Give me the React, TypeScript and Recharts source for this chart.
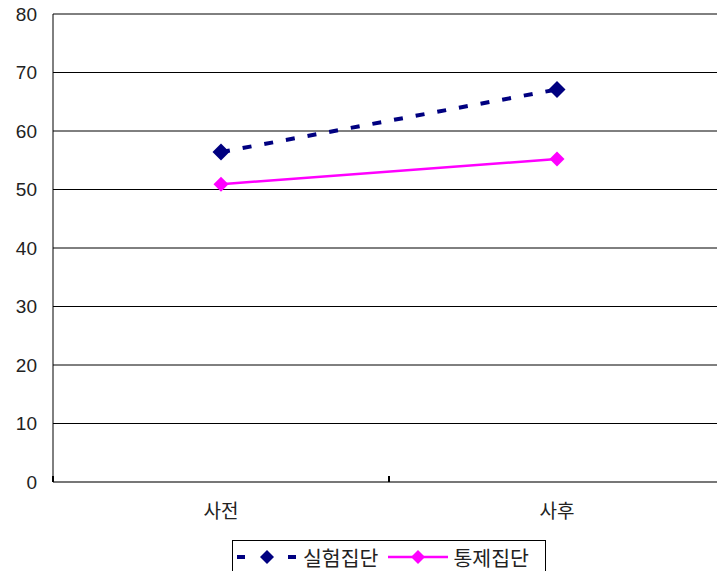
import { LineChart, Line, XAxis, YAxis, CartesianGrid, Legend } from 'recharts'

const phases = ['사전', '사후']
const experimental = [56.4, 67.1]
const control = [50.9, 55.2]
const yTicks = [0, 10, 20, 30, 40, 50, 60, 70, 80]

const NAVY = '#000080'
const MAGENTA = '#ff00ff'
const FONT = '"Liberation Sans", Arial, "Noto Sans CJK KR", sans-serif'

const data = phases.map((p, i) => ({ phase: p, exp: experimental[i], ctl: control[i] }))

function Diamond({ cx, cy, r, fill }: { cx?: number; cy?: number; r: number; fill: string }) {
  if (cx == null || cy == null) return null
  return <path d={`M${cx},${cy - r}L${cx + r},${cy}L${cx},${cy + r}L${cx - r},${cy}Z`} fill={fill} />
}

function XTick(props: any) {
  const { x, y, payload, index, visibleTicksCount } = props
  const axisY = y - 8
  const off = payload.offset ?? 0
  return (
    <g>
      <line x1={x - off} x2={x - off} y1={axisY - 6} y2={axisY} stroke="#000" strokeWidth={2} />
      {index === visibleTicksCount - 1 && (
        <line x1={x + off} x2={x + off} y1={axisY - 6} y2={axisY} stroke="#000" strokeWidth={2} />
      )}
      <text x={x} y={axisY + 36} textAnchor="middle" fontSize={19} fill="#222" fontFamily={FONT}>
        {payload.value}
      </text>
    </g>
  )
}

function LegendBox() {
  return (
    <div style={{
      boxSizing: 'border-box', height: 34, width: 314, border: '1px solid #000',
      display: 'flex', alignItems: 'center', fontFamily: FONT, fontSize: 20.5, color: '#222', paddingLeft: 4,
    }}>
      <svg width={60} height={20} style={{ marginRight: 6, flexShrink: 0 }}>
        <line x1={0} x2={8} y1={10} y2={10} stroke={NAVY} strokeWidth={4} />
        <line x1={51} x2={59} y1={10} y2={10} stroke={NAVY} strokeWidth={4} />
        <Diamond cx={30} cy={10} r={7} fill={NAVY} />
      </svg>
      <span style={{ marginRight: 10, whiteSpace: 'nowrap' }}>실험집단</span>
      <svg width={60} height={20} style={{ marginRight: 5, flexShrink: 0 }}>
        <line x1={0} x2={60} y1={10} y2={10} stroke={MAGENTA} strokeWidth={2.5} />
        <Diamond cx={30} cy={10} r={7} fill={MAGENTA} />
      </svg>
      <span style={{ whiteSpace: 'nowrap' }}>통제집단</span>
    </div>
  )
}

export default function App() {
  return (
    <div style={{ position: 'absolute', left: 0, top: 0, width: 717, height: 571, overflow: 'hidden', background: '#fff' }}>
      <LineChart width={725} height={580} data={data} margin={{ top: 14, right: 0, left: 0, bottom: 6 }}>
        <CartesianGrid horizontal vertical={false} stroke="#000" strokeWidth={1} />
        <XAxis
          dataKey="phase"
          scale="band"
          height={58}
          tickSize={4}
          tickMargin={4}
          tickLine={false}
          axisLine={{ stroke: '#777', strokeWidth: 2 }}
          tick={<XTick />}
          interval={0}
        />
        <YAxis
          width={53}
          domain={[0, 80]}
          ticks={yTicks}
          tickLine={false}
          tickSize={8}
          tickMargin={8}
          axisLine={{ stroke: '#000', strokeWidth: 1 }}
          tick={{ fontSize: 19, fill: '#222', fontFamily: FONT }}
        />
        <Legend
          verticalAlign="bottom"
          content={() => <LegendBox />}
          wrapperStyle={{ left: 232, width: 314, height: 34 }}
        />
        <Line
          dataKey="exp"
          name="실험집단"
          stroke={NAVY}
          strokeWidth={4}
          strokeDasharray="9 13"
          dot={(p: any) => <Diamond key={`e${p.index}`} cx={p.cx} cy={p.cy} r={8.5} fill={NAVY} />}
          activeDot={false}
          isAnimationActive={false}
        />
        <Line
          dataKey="ctl"
          name="통제집단"
          stroke={MAGENTA}
          strokeWidth={2.5}
          dot={(p: any) => <Diamond key={`c${p.index}`} cx={p.cx} cy={p.cy} r={7.5} fill={MAGENTA} />}
          activeDot={false}
          isAnimationActive={false}
        />
      </LineChart>
    </div>
  )
}
